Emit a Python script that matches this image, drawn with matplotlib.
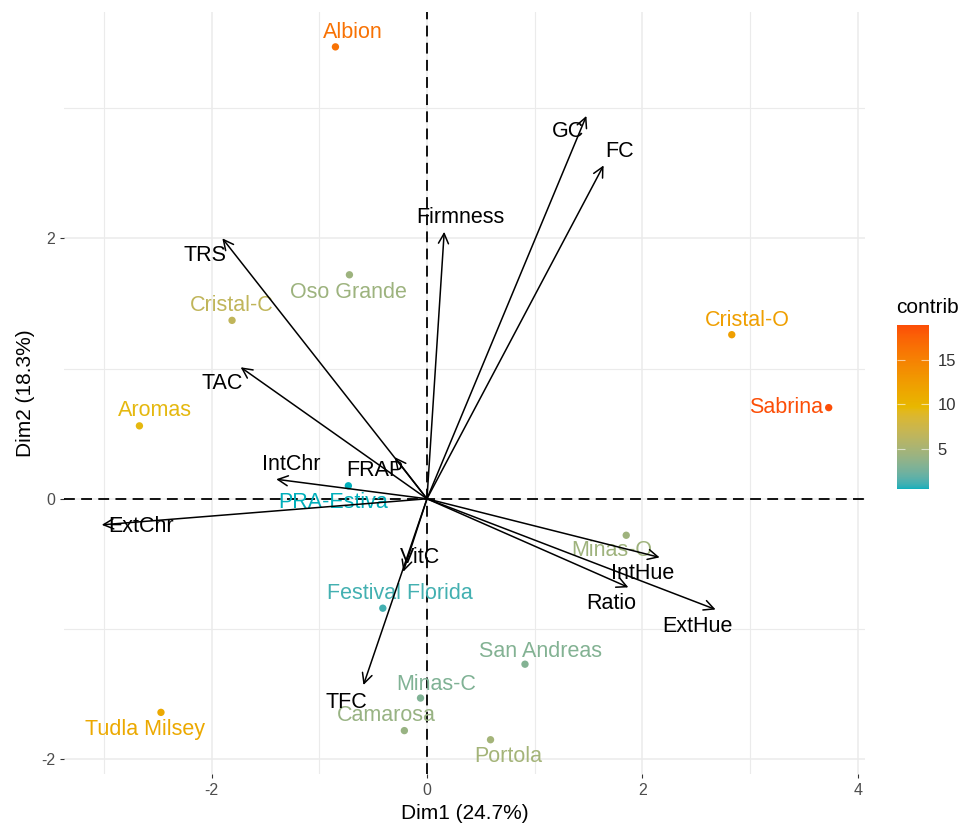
import matplotlib
matplotlib.use("Agg")
import numpy as np
import matplotlib.pyplot as plt
from matplotlib.colors import ListedColormap, Normalize, to_rgb
from matplotlib.ticker import MultipleLocator

# individuals (strawberry cultivars) on the first two dimensions
names = ["Albion", "Oso Grande", "Cristal-C", "Aromas", "PRA-Estiva",
         "Festival Florida", "Minas-C", "Camarosa", "Tudla Milsey",
         "Cristal-O", "Sabrina", "Minas-O", "San Andreas", "Portola"]
dim1 = [-0.85, -0.72, -1.81, -2.67, -0.73, -0.41, -0.06, -0.21, -2.47,
        2.83, 3.73, 1.85, 0.91, 0.59]
dim2 = [3.47, 1.72, 1.37, 0.56, 0.10, -0.84, -1.53, -1.78, -1.64,
        1.26, 0.70, -0.28, -1.27, -1.85]
contrib = [16.3, 4.4, 6.6, 9.5, 0.4, 1.1, 3.0, 4.1, 11.2,
           12.2, 18.9, 4.5, 3.1, 4.8]

# variables (arrows)
var_names = ["GC", "FC", "Firmness", "TRS", "TAC", "FRAP", "IntChr", "ExtChr",
             "VitC", "TFC", "IntHue", "Ratio", "ExtHue"]
var_dim1 = [1.48, 1.64, 0.16, -1.90, -1.73, -0.30, -1.40, -3.02,
            -0.22, -0.59, 2.16, 1.87, 2.68]
var_dim2 = [2.94, 2.56, 2.05, 2.00, 1.01, 0.32, 0.15, -0.20,
            -0.56, -1.43, -0.45, -0.68, -0.85]

x_title = "Dim1 (24.7%)"
y_title = "Dim2 (18.3%)"
gradient = ['#00AFBB', '#E7B800', '#FC4E07']

# where labels sit relative to their point (pixels)
ind_offsets = {"Albion": (17, 14), "Oso Grande": (-1, -18), "Cristal-C": (0, 15),
               "Aromas": (16, 15), "PRA-Estiva": (-15, -17),
               "Festival Florida": (17, 15), "Minas-C": (16, 14),
               "Camarosa": (-18, 15), "Tudla Milsey": (-16, -17),
               "Cristal-O": (16, 14), "Sabrina": (-43, 0), "Minas-O": (-14, -15),
               "San Andreas": (16, 13), "Portola": (18, -17)}
var_offsets = {"GC": (-18, -16), "FC": (16, 14), "Firmness": (16, 14),
               "TRS": (-17, -17), "TAC": (-18, -16), "FRAP": (-20, -13),
               "IntChr": (15, 15), "ExtChr": (39, -2), "VitC": (17, 14),
               "TFC": (-17, -17), "IntHue": (-17, -16), "Ratio": (-17, -16),
               "ExtHue": (-18, -17)}


# sRGB <-> CIELAB so the gradient blends like ggplot does
def to_lab(rgb):
    c = np.array(rgb)
    c = np.where(c > 0.04045, ((c + 0.055) / 1.055) ** 2.4, c / 12.92)
    m = np.array([[0.4124, 0.3576, 0.1805],
                  [0.2126, 0.7152, 0.0722],
                  [0.0193, 0.1192, 0.9505]])
    xyz = m @ c / np.array([0.95047, 1.0, 1.08883])
    f = np.where(xyz > 0.008856, np.cbrt(xyz), 7.787 * xyz + 16 / 116)
    return np.array([116 * f[1] - 16, 500 * (f[0] - f[1]), 200 * (f[1] - f[2])])


def from_lab(lab):
    fy = (lab[0] + 16) / 116
    fx = fy + lab[1] / 500
    fz = fy - lab[2] / 200
    f = np.array([fx, fy, fz])
    xyz = np.where(f ** 3 > 0.008856, f ** 3, (f - 16 / 116) / 7.787)
    xyz = xyz * np.array([0.95047, 1.0, 1.08883])
    m = np.array([[3.2406, -1.5372, -0.4986],
                  [-0.9689, 1.8758, 0.0415],
                  [0.0557, -0.2040, 1.0570]])
    c = m @ xyz
    c = np.where(c > 0.0031308, 1.055 * np.clip(c, 0, None) ** (1 / 2.4) - 0.055, 12.92 * c)
    return np.clip(c, 0, 1)


def lab_cmap(cols, n=256):
    labs = [to_lab(to_rgb(c)) for c in cols]
    out = []
    for t in np.linspace(0, 1, n):
        pos = t * (len(labs) - 1)
        i = min(int(pos), len(labs) - 2)
        w = pos - i
        out.append(from_lab(labs[i] * (1 - w) + labs[i + 1] * w))
    return ListedColormap(out)


def main():
    plt.rcParams['font.family'] = ['Liberation Sans', 'DejaVu Sans']
    plt.rcParams['axes.unicode_minus'] = False

    fig = plt.figure(figsize=(9.63, 8.24), dpi=100)
    ax = fig.add_axes([0.0665, 0.0607, 0.8315, 0.9243])

    cmap = lab_cmap(gradient)
    norm = Normalize(vmin=min(contrib), vmax=max(contrib))

    ax.set_xlim(-3.37, 4.065)
    ax.set_ylim(-2.113, 3.735)

    # grid like theme_minimal
    ax.xaxis.set_major_locator(MultipleLocator(2))
    ax.xaxis.set_minor_locator(MultipleLocator(1))
    ax.yaxis.set_major_locator(MultipleLocator(2))
    ax.yaxis.set_minor_locator(MultipleLocator(1))
    ax.grid(which='major', color='#EBEBEB', lw=1.1)
    ax.grid(which='minor', color='#EBEBEB', lw=0.8)
    ax.set_axisbelow(True)
    for s in ax.spines.values():
        s.set_visible(False)
    ax.tick_params(which='major', length=3, color='#333333', labelcolor='#4D4D4D',
                   labelsize=11.5)
    ax.tick_params(which='minor', length=0)

    # dashed origin lines
    ax.axhline(0, color='black', lw=1.3, ls=(0, (6, 3.5)), zorder=1)
    ax.axvline(0, color='black', lw=1.3, ls=(0, (6, 3.5)), zorder=1)

    # individuals
    ax.scatter(dim1, dim2, c=contrib, cmap=cmap, norm=norm, s=28, zorder=3,
               edgecolors='none')
    for n, x, y, c in zip(names, dim1, dim2, contrib):
        ax.annotate(n, (x, y), xytext=ind_offsets[n], textcoords='offset pixels',
                    ha='center', va='center', fontsize=15.5, color=cmap(norm(c)),
                    zorder=4)

    # variable arrows
    for n, x, y in zip(var_names, var_dim1, var_dim2):
        ax.annotate("", xy=(x, y), xytext=(0, 0),
                    arrowprops=dict(arrowstyle='->', lw=1.1, color='black',
                                    mutation_scale=18, shrinkA=0, shrinkB=0),
                    zorder=5)
        ax.annotate(n, (x, y), xytext=var_offsets[n], textcoords='offset pixels',
                    ha='center', va='center', fontsize=15.5, color='black', zorder=6)

    ax.set_xlabel(x_title, fontsize=15, labelpad=4)
    ax.set_ylabel(y_title, fontsize=15, labelpad=4)

    # colour bar legend
    cax = fig.add_axes([0.931, 0.406, 0.034, 0.199])
    sm = plt.cm.ScalarMappable(norm=norm, cmap=cmap)
    cb = fig.colorbar(sm, cax=cax)
    cb.outline.set_visible(False)
    cb.set_ticks([5, 10, 15])
    cax.yaxis.set_ticks_position('both')
    cax.tick_params(direction='in', color=(1, 1, 1, 0.6), length=6, width=0.8,
                    labelsize=12, labelcolor='#333333', labelleft=False,
                    labelright=True, pad=6)
    fig.text(0.931, 0.615, "contrib", fontsize=15, ha='left', va='bottom')

    fig.savefig("out.png", dpi=100)


if __name__ == "__main__":
    main()
